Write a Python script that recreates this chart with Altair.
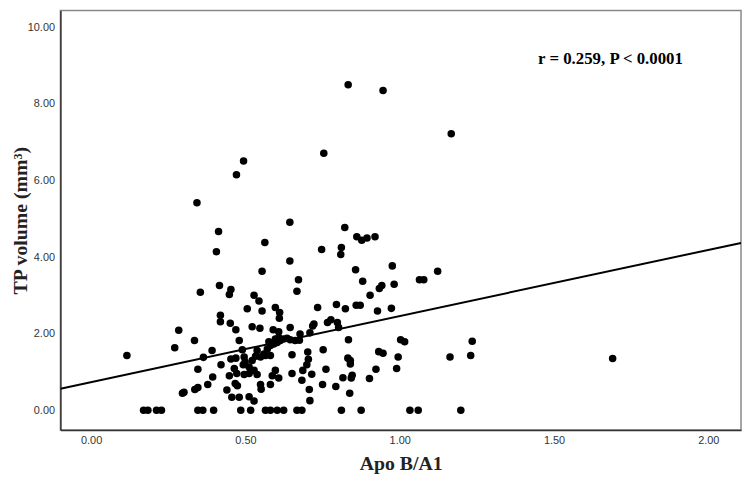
import altair as alt
import pandas as pd

# scatter points (Apo B/A1, TP volume)
zero_x = [0.170, 0.184, 0.212, 0.228, 0.346, 0.362, 0.397, 0.485, 0.517, 0.565,
          0.581, 0.603, 0.624, 0.667, 0.683, 0.811, 0.875, 1.033, 1.060, 1.198]

pts_x = [0.116, 0.284, 0.271, 0.335, 0.354, 0.416, 0.453, 0.448, 0.419, 0.419, 0.451, 0.469, 0.480,
         0.392, 0.364, 0.346, 0.421, 0.394, 0.378, 0.346, 0.336, 0.301, 0.296, 0.453, 0.469, 0.448,
         0.464, 0.472, 0.467, 0.474, 0.440, 0.456, 0.480, 0.512, 0.528, 0.490, 0.493, 0.496, 0.506,
         0.528, 0.544, 0.554, 0.522, 0.547, 0.597, 0.611, 0.610, 0.672, 0.667, 0.590, 0.608, 0.645,
         0.512, 0.522, 0.533, 0.538, 0.549, 0.560, 0.571, 0.576, 0.581, 0.592, 0.597, 0.603, 0.608,
         0.613, 0.624, 0.635, 0.645, 0.661, 0.565, 0.581, 0.528, 0.538, 0.512, 0.496, 0.499,
         0.651, 0.597, 0.587, 0.608, 0.581, 0.549, 0.551, 0.651,
         0.880, 0.934, 0.942, 0.982, 1.064, 1.078, 0.734, 0.795, 0.824, 0.859, 0.872, 0.904, 0.928,
         0.973, 0.718, 0.722, 0.766, 0.777, 0.798, 0.802, 0.677, 0.709, 0.675, 0.834, 0.752, 0.702,
         0.704, 0.699, 0.686, 0.715, 0.683, 0.761, 0.750, 0.707, 0.709, 0.793, 0.816, 0.846, 0.843,
         0.838, 0.832, 0.840, 0.840, 0.923, 0.902, 0.932, 0.946, 1.003, 1.016, 0.995, 0.990, 1.163,
         1.230, 1.235,
         1.167, 0.754, 0.822, 0.861, 0.877, 0.894, 0.920, 0.747, 0.811, 0.809, 0.857, 0.976, 1.123,
         0.494, 0.471, 0.343, 0.644, 0.413, 0.563, 0.406, 0.644, 0.554,
         0.833, 0.946, 1.690]

pts_y = [1.43, 2.09, 1.63, 1.82, 3.08, 3.26, 3.15, 3.02, 2.48, 2.31, 2.27, 2.10, 1.82,
         1.56, 1.38, 1.07, 1.19, 0.87, 0.67, 0.59, 0.54, 0.47, 0.44, 1.34, 1.36, 0.90,
         1.09, 0.96, 0.70, 0.64, 0.53, 0.34, 0.34, 0.35, 0.24, 1.58, 1.19, 0.93, 2.65,
         3.00, 2.85, 2.59, 2.18, 2.14, 2.68, 2.55, 2.40, 3.41, 3.11, 2.10, 2.05, 2.16,
         1.13, 1.30, 1.41, 1.56, 1.39, 1.47, 1.60, 1.79, 1.69, 1.73, 1.86, 1.77, 1.90,
         1.82, 1.86, 1.88, 1.84, 1.82, 1.43, 1.43, 1.04, 0.93, 0.96, 1.39, 1.26,
         1.45, 1.04, 0.90, 0.84, 0.67, 0.67, 0.55, 0.96,
         3.37, 3.18, 3.26, 3.29, 3.41, 3.41, 2.68, 2.76, 2.65, 2.74, 2.74, 3.00, 2.59,
         2.66, 2.20, 2.25, 2.29, 2.36, 2.29, 2.16, 1.99, 2.02, 1.83, 1.84, 1.58, 1.52,
         1.33, 1.19, 1.04, 0.94, 0.78, 1.07, 0.67, 0.54, 0.25, 0.62, 0.85, 0.91, 0.84,
         0.44, 1.36, 1.30, 1.21, 1.07, 0.83, 1.53, 1.49, 1.84, 1.79, 1.39, 1.09, 1.39,
         1.43, 1.80,
         7.22, 6.71, 4.77, 4.53, 4.44, 4.50, 4.53, 4.20, 4.25, 4.07, 3.67, 3.77, 3.63,
         6.51, 6.15, 5.42, 4.91, 4.67, 4.38, 4.14, 3.90, 3.63,
         8.50, 8.35, 1.35]

# fit line end points
line_x = [-0.0994, 2.106]
line_y = [0.56, 4.37]

ann_x = [1.683]
ann_y = [9.17]
ann_text = ["r = 0.259, P < 0.0001"]

x_ticks = [0, 0.5, 1.0, 1.5, 2.0]
y_ticks = [0, 2, 4, 6, 8, 10]

X_DOM = [-0.0994, 2.106]
Y_DOM = [-0.517, 10.44]

pts = pd.DataFrame({"x": zero_x + pts_x, "y": [0.0] * len(zero_x) + pts_y})
line_df = pd.DataFrame({"x": line_x, "y": line_y})
ann_df = pd.DataFrame({"x": ann_x, "y": ann_y, "t": ann_text})

xscale = alt.Scale(domain=X_DOM, nice=False, zero=False)
yscale = alt.Scale(domain=Y_DOM, nice=False, zero=False)

xaxis = alt.Axis(values=x_ticks, format=".2f", grid=False, ticks=False, labelPadding=5,
                 labelFontSize=11, labelFont="Liberation Sans", labelColor="#333333",
                 title="Apo B/A1", titleFont="Liberation Serif", titleFontSize=20,
                 titleFontWeight="bold", titleColor="#222222", titleY=34, titleBaseline="middle",
                 domainColor="#333333", domainWidth=1.5)
yaxis = alt.Axis(values=y_ticks, format=".2f", grid=False, ticks=False, labelPadding=6,
                 labelFontSize=11, labelFont="Liberation Sans", labelColor="#333333",
                 title="TP volume (mm³)", titleFont="Liberation Serif", titleFontSize=20,
                 titleFontWeight="bold", titleColor="#222222", titleX=-40, titleAngle=-90,
                 titleBaseline="middle", titleAlign="center",
                 domainColor="#333333", domainWidth=1.5)

points = alt.Chart(pts).mark_circle(size=58, color="black", opacity=1).encode(
    x=alt.X("x:Q", scale=xscale, axis=xaxis),
    y=alt.Y("y:Q", scale=yscale, axis=yaxis),
)

fit = alt.Chart(line_df).mark_line(color="black", strokeWidth=2, clip=True).encode(
    x=alt.X("x:Q", scale=xscale),
    y=alt.Y("y:Q", scale=yscale),
)

ann = alt.Chart(ann_df).mark_text(font="Liberation Serif", fontSize=17, fontWeight="bold",
                                  color="black", align="center", baseline="middle").encode(
    x=alt.X("x:Q", scale=xscale),
    y=alt.Y("y:Q", scale=yscale),
    text="t:N",
)

chart = alt.layer(fit, points, ann).properties(
    width=688, height=424,
    autosize=alt.AutoSizeParams(type="none"),
    padding={"left": 53, "top": 0, "right": 2, "bottom": 50},
).configure_view(stroke="#888888", strokeWidth=1.5)

chart.save("out.html", embed_options={"renderer": "svg", "actions": False})
